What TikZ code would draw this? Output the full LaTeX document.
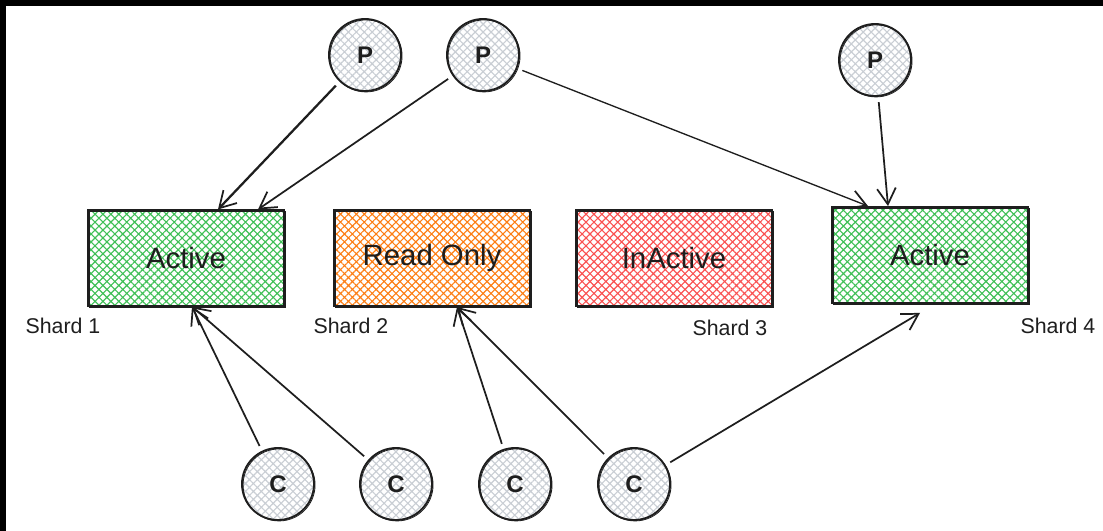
\documentclass[tikz,border=0pt]{standalone}
\usepackage{fontspec}
\setmainfont{Liberation Sans}
\usetikzlibrary{patterns.meta,arrows.meta,calc}
\definecolor{ink}{HTML}{1E1E1E}
\definecolor{shardgreen}{HTML}{40C057}
\definecolor{shardorange}{HTML}{FD7E14}
\definecolor{shardred}{HTML}{FA5252}
\definecolor{peergrey}{HTML}{C9CED4}
\begin{document}
\begin{tikzpicture}[x=0.75pt,y=-0.75pt,
  hatch/.style={pattern={Hatch[angle=45,distance=4.2pt,line width=0.85pt]}, pattern color=#1},
  sketch/.style={draw=ink, line width=1.4pt,
    postaction={draw=ink, line width=0.6pt, transform canvas={xshift=0.8pt,yshift=-0.7pt}}},
  shardbox/.style={sketch, hatch=#1, minimum width=147pt, minimum height=72pt,
    inner sep=0pt, font=\fontsize{22}{26}\selectfont, text=ink},
  peer/.style={circle, sketch, hatch=peergrey, minimum size=54pt, inner sep=0pt,
    font=\fontsize{18}{21}\selectfont\bfseries, text=ink},
  tag/.style={font=\fontsize{16}{19}\selectfont, text=ink, inner sep=0pt},
  link/.style={draw=ink, line width=1.3pt,
    -{Straight Barb[length=12pt,width=14pt,line width=1.3pt]}, shorten <=4pt},
]
% canvas with the dark strips along the top and left edges
\fill[white] (0,0) rectangle (1103,531);
\fill[black] (0,0) rectangle (1103,6);
\fill[black] (0,0) rectangle (6,531);
\useasboundingbox (0,0) rectangle (1103,531);

% shards
\node[shardbox=shardgreen]  (b1) at (186,258) {Active};
\node[shardbox=shardorange] (b2) at (432,258) {Read Only};
\node[shardbox=shardred]    (b3) at (674,258) {InActive};
\node[shardbox=shardgreen]  (b4) at (930,255) {Active};

\node[tag] (s1) at (63,326)   {Shard 1};
\node[tag] (s2) at (351,326)  {Shard 2};
\node[tag] (s3) at (730,328)  {Shard 3};
\node[tag] (s4) at (1058,326) {Shard 4};

% producers
\node[peer] (p1) at (365,55) {P};
\node[peer] (p2) at (483,55) {P};
\node[peer] (p3) at (875,60) {P};

% consumers
\node[peer] (c1) at (278,484) {C};
\node[peer] (c2) at (396,484) {C};
\node[peer] (c3) at (515,484) {C};
\node[peer] (c4) at (634,484) {C};

% producer writes
\draw[link, line width=1.7pt] (p1) -- ($(b1.north)+(32,0)$);
\draw[link] (p2) -- ($(b1.north)+(72,0)$);
\draw[link, line width=1pt] (p2) -- ($(b4.north)+(-62,0)$);
\draw[link] (p3) -- ($(b4.north)+(-42,0)$);

% consumer reads
\draw[link] (c1) -- ($(b1.south)+(6,0)$);
\draw[link] (c2) -- ($(b1.south)+(6,0)$);
\draw[link] (c3) -- ($(b2.south)+(25,0)$);
\draw[link] (c4) -- ($(b2.south)+(25,0)$);
\draw[link] (c4) -- ($(b4.south)+(-10,9)$);
\end{tikzpicture}
\end{document}
